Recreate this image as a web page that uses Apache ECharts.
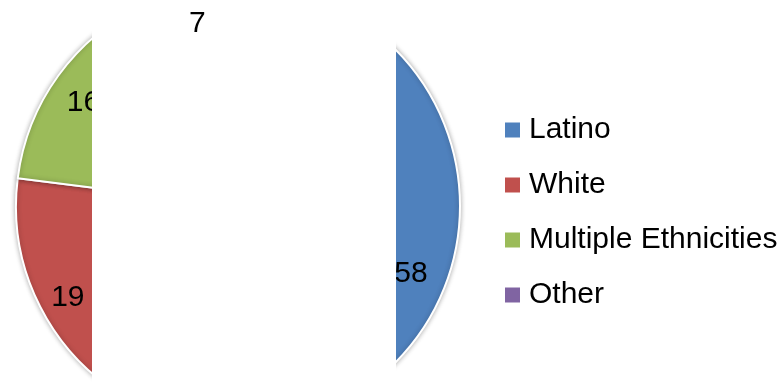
<!DOCTYPE html>
<html>
<head>
<meta charset="utf-8">
<script src="https://cdn.jsdelivr.net/npm/echarts@6/dist/echarts.min.js"></script>
<style>html,body{margin:0;padding:0;background:#fff;}#c{width:779px;height:385px;}</style>
</head>
<body>
<div id="c"></div>
<script>
var categories = ['Latino', 'White', 'Multiple Ethnicities', 'Other'];
var values = [58, 19, 16, 7];
var colors = ['#4F81BD', '#C0504D', '#9BBB59', '#8064A2'];

var FONT = 'Liberation Sans';
var center = [238, 206];
// Excel-style nudges for the data labels
var labelNudge = {'Latino': [-12, 20], 'White': [0, 5], 'Multiple Ethnicities': [0, 9], 'Other': [1, 4]};
var chart = echarts.init(document.getElementById('c'), null, {renderer: 'canvas'});

function pieData(showFn) {
  return categories.map(function (n, i) {
    return {name: n, value: values[i], label: {show: showFn(n), offset: labelNudge[n]}};
  });
}

chart.setOption({
  animation: false,
  backgroundColor: '#ffffff',
  color: colors,
  legend: {
    orient: 'vertical',
    left: 503,
    top: 115,
    padding: 0,
    data: categories,
    itemWidth: 17,
    itemHeight: 17,
    itemGap: 25,
    icon: 'rect',
    textStyle: {fontFamily: FONT, fontSize: 30, color: '#000', lineHeight: 30, padding: [0, 0, 0, 3]},
    selectedMode: false
  },
  graphic: [{
    type: 'rect', z: 5,
    shape: {x: 92, y: 0, width: 304, height: 385},
    style: {fill: '#ffffff'}
  }],
  series: [
    {
      type: 'pie', z: 1, center: center, radius: [0, 222],
      startAngle: 90, clockwise: true, silent: true,
      avoidLabelOverlap: false,
      label: {show: false}, labelLine: {show: false},
      itemStyle: {borderColor: '#ffffff', borderWidth: 2, shadowBlur: 5, shadowColor: 'rgba(0,0,0,0.3)'},
      data: categories.map(function (n, i) { return {name: n, value: values[i]}; })
    },
    {
      type: 'pie', z: 1, center: center, radius: [0, 376],
      startAngle: 90, clockwise: true, silent: true,
      avoidLabelOverlap: false, legendHoverLink: false,
      itemStyle: {color: 'rgba(0,0,0,0)', borderWidth: 0},
      label: {position: 'inside', formatter: '{c}', color: '#000', fontFamily: FONT, fontSize: 30},
      labelLine: {show: false},
      data: pieData(function (n) { return n !== 'Other'; })
    },
    {
      type: 'pie', z: 10, center: center, radius: [0, 376],
      startAngle: 90, clockwise: true, silent: true,
      avoidLabelOverlap: false, legendHoverLink: false,
      itemStyle: {color: 'rgba(0,0,0,0)', borderWidth: 0},
      label: {position: 'inside', formatter: '{c}', color: '#000', fontFamily: FONT, fontSize: 30},
      labelLine: {show: false},
      data: pieData(function (n) { return n === 'Other'; })
    }
  ]
});
</script>
</body>
</html>
